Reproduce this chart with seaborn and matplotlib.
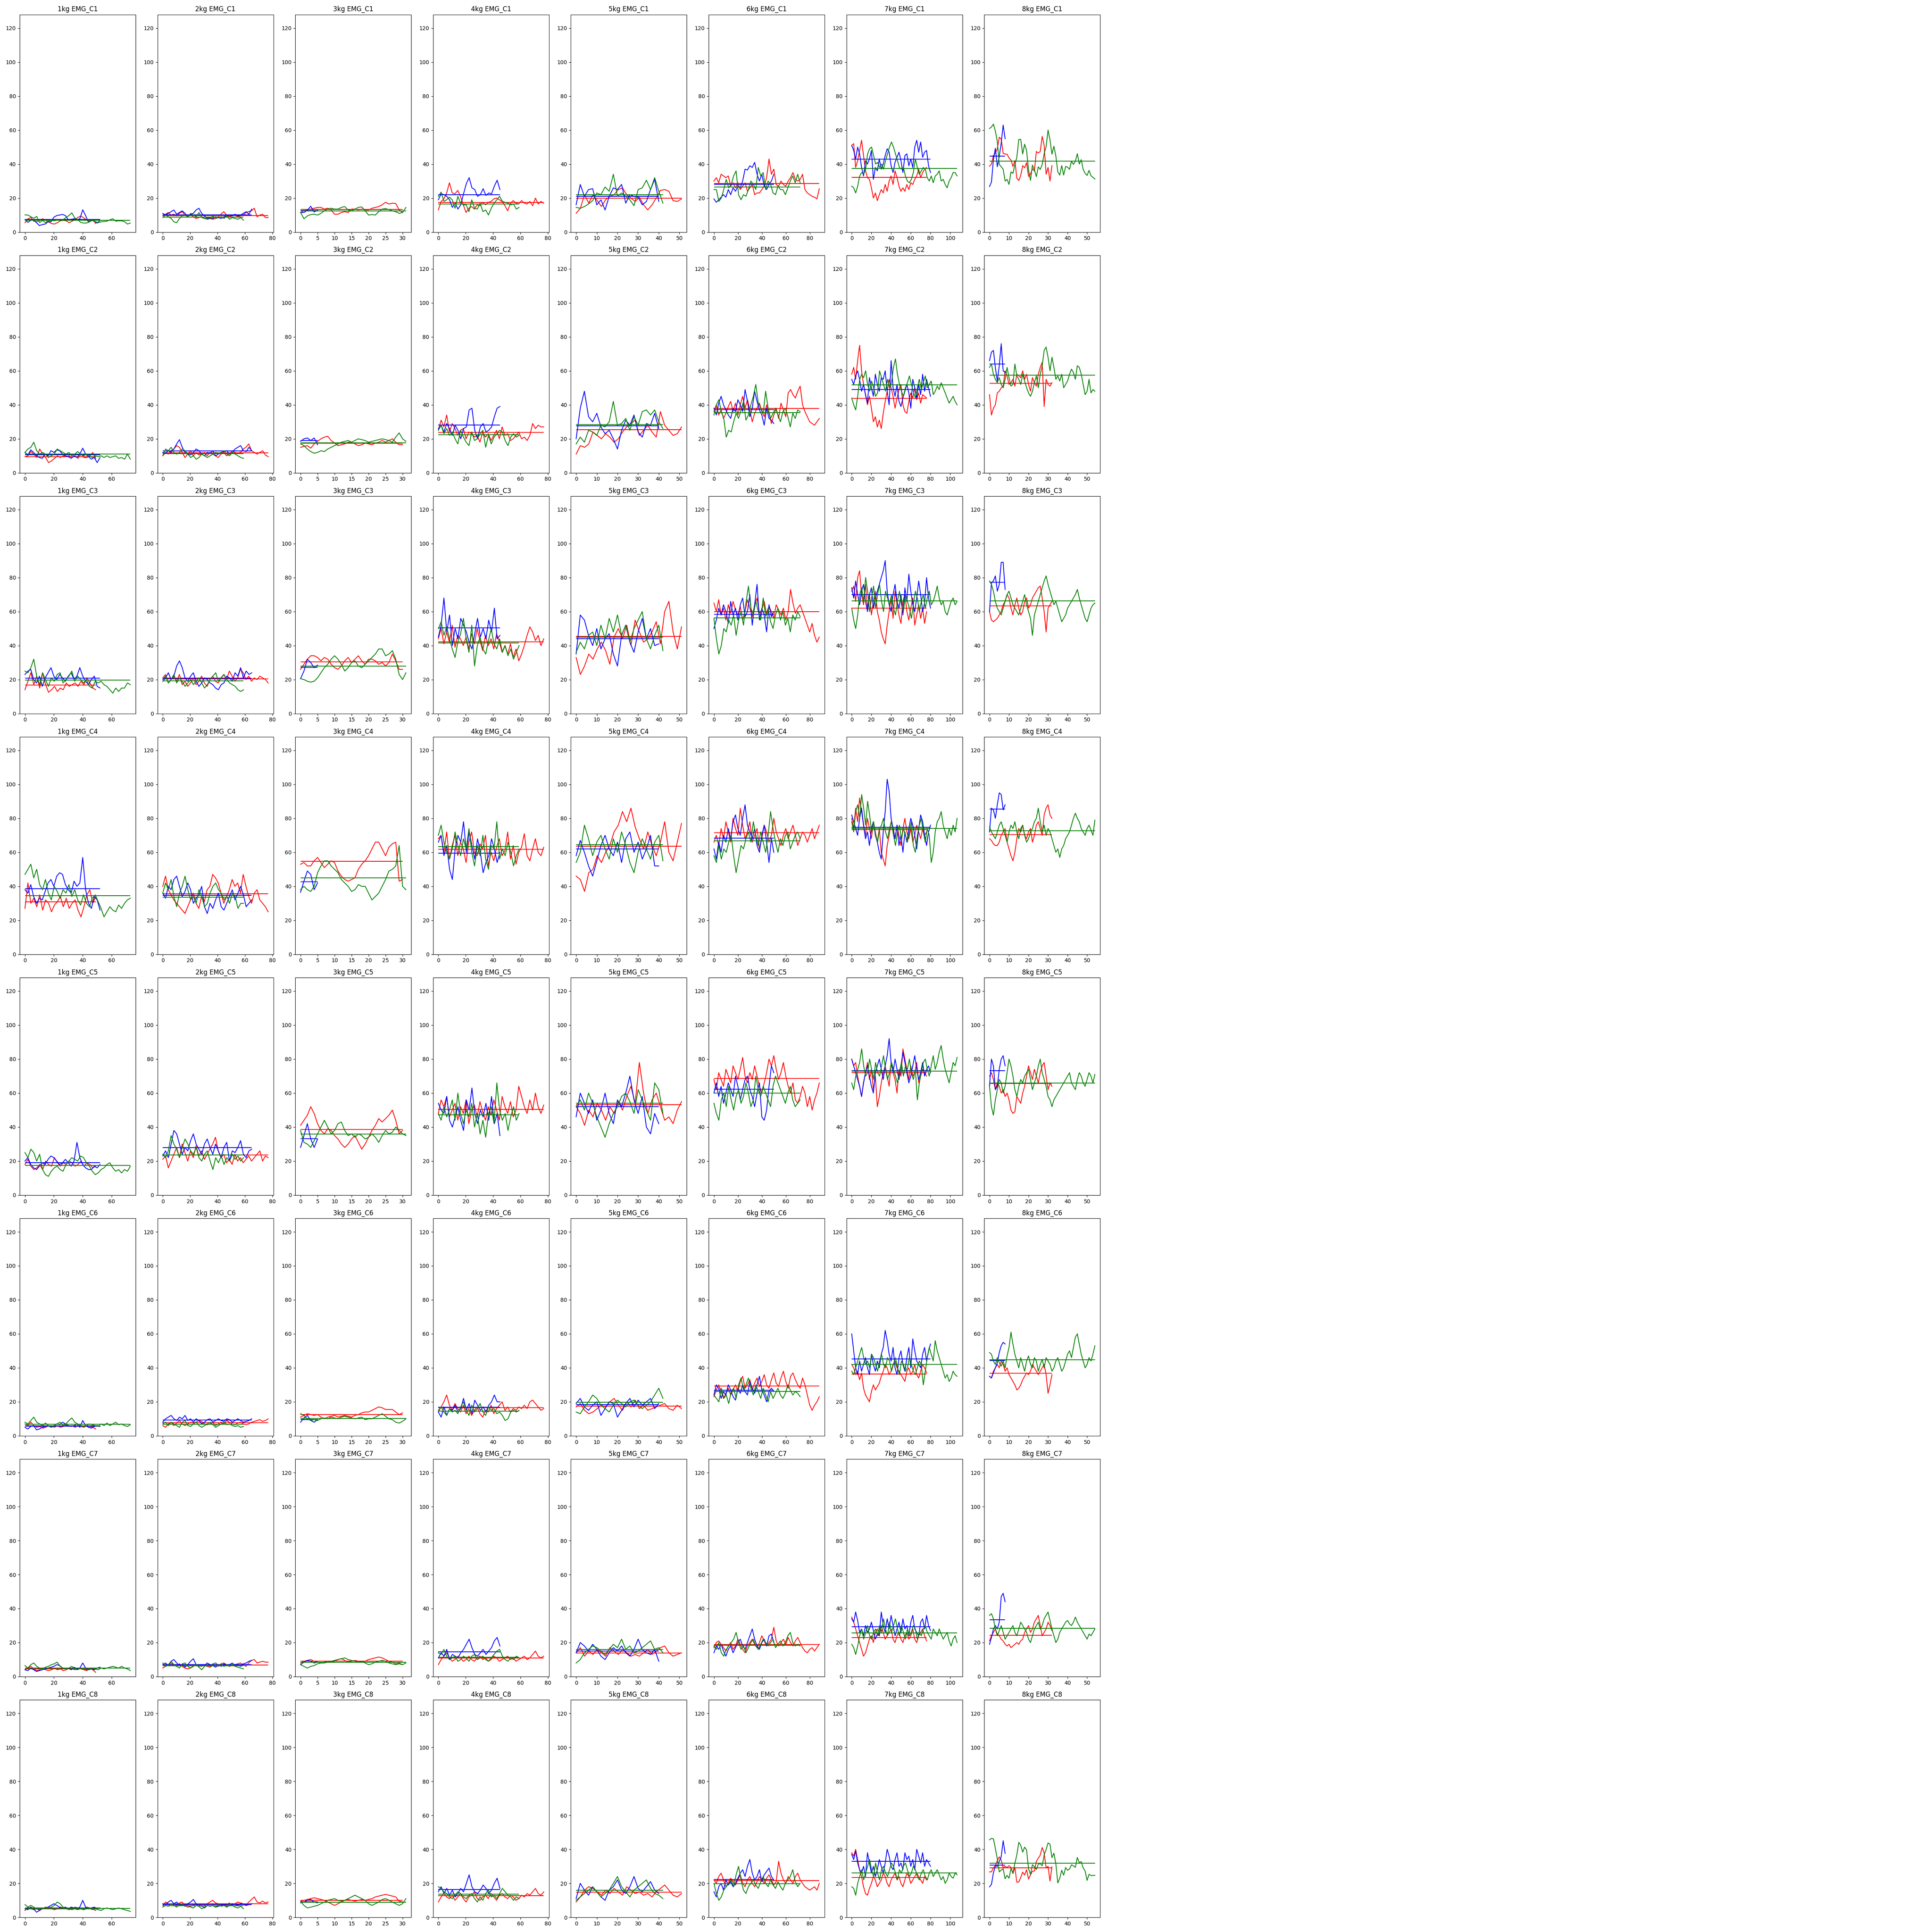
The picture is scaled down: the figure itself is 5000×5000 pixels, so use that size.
import numpy as np
import matplotlib
matplotlib.use("Agg")
import matplotlib.pyplot as plt
import seaborn as sns

weights = ["1kg", "2kg", "3kg", "4kg", "5kg", "6kg", "7kg", "8kg"]
channels = ["EMG_C1", "EMG_C2", "EMG_C3", "EMG_C4", "EMG_C5", "EMG_C6", "EMG_C7", "EMG_C8"]

# number of samples of each recording (x runs 0 .. n-1)
red_len = [50, 78, 31, 78, 52, 89, 77, 33]
blue_len = [53, 66, 6, 46, 41, 51, 81, 9]
green_len = [74, 60, 32, 60, 43, 73, 108, 55]

# ---------------- EMG_C1 ----------------
c1_red = [
    [5.5, 7.8, 8.5, 6.4, 6, 6.9, 7.8, 6.9, 6, 5, 4.7, 5.5, 6.6, 6.9, 6.6, 5.5, 6.4, 7.3, 8.7, 9.4, 8.3, 6.9, 6.4, 7.3, 5],
    [9.5, 10.5, 11.5, 10, 10.5, 9.5, 11, 12, 10, 9, 10.5, 9, 8, 8.5, 9, 8, 8.5, 8, 7.5, 8, 9, 10.5, 12, 10, 9, 9.5, 10, 9, 9.5, 10, 11.5, 12, 12.5, 14, 9, 10, 10.5, 8.5, 8.5],
    [11.5, 12.5, 13, 13.5, 14, 14.5, 14.5, 13.5, 14, 13, 10.5, 10.5, 11.5, 12, 11.5, 13.5, 13.5, 13, 13.5, 13, 13, 14, 14.5, 15, 16, 17.5, 16.5, 17, 16.8, 13, 11.5],
    [13, 18, 19.5, 23, 29, 23, 22.5, 24.5, 21, 16, 11.5, 14, 15, 13.5, 16, 15.5, 17.5, 16, 17.5, 18, 19.5, 20, 19, 18, 15.5, 12.5, 17, 18.5, 17, 16.5, 18.5, 17, 16.5, 18, 15.5, 20, 16.5, 18, 17],
    [11, 14, 22, 17, 22, 18.5, 15, 19, 21, 22, 25, 26, 22, 20, 18, 20.5, 16, 13, 16, 20, 24.5, 25, 24, 18.5, 18, 19.5],
    [30, 32, 29, 34, 33, 32, 33, 27, 29, 26, 29, 25, 27, 29, 24, 26, 28, 22, 23, 23, 25, 27, 32, 43, 34, 37, 28, 27, 30, 28, 27, 30, 32, 35, 31, 30, 31, 34, 25, 23, 22, 21, 20.5, 19.5, 25.5],
    [51, 52, 38, 42, 48, 54, 45, 36, 32, 31, 26, 20, 23, 18.5, 22, 25, 23, 28, 24, 30, 33, 28, 36, 32, 27, 24, 26, 24, 28, 25, 29, 28, 31, 33, 37, 32, 35, 37, 38],
    [38.7, 40, 45, 46.5, 49, 55.8, 54.7, 46.3, 45.9, 45.8, 43.6, 42.4, 38.6, 42, 31.7, 30.3, 33.3, 39.1, 37.8, 40.8, 32.7, 34.1, 37.2, 35.9, 47.4, 46.5, 47.4, 56.3, 51, 34, 38, 30, 39.1],
]
c1_blue = [
    [7.3, 5.7, 6.9, 7.2, 5.5, 3.8, 4.4, 4.7, 6, 6, 8.7, 9.7, 10, 10.4, 9.7, 7.3, 7.5, 7.8, 7.3, 7.8, 13.1, 9.7, 5.7, 6.9, 6.4, 5.3, 6.9],
    [11, 10, 11, 12, 13, 10.5, 11.5, 12.5, 11, 9, 10.5, 11, 13, 14, 11, 9.5, 8, 8.5, 8, 9, 8.5, 8, 9, 9.5, 10, 9.5, 10.5, 9.5, 10, 11, 12, 10.5, 13.5],
    [11.5, 11.5, 12.8, 15.2, 11.8, 12.9],
    [19, 22.5, 22, 21, 19, 14.5, 17, 13.5, 16, 22.5, 28.5, 32, 26, 25, 21, 22, 25.5, 21.5, 23, 22.5, 27, 30.5, 25],
    [16, 28, 21, 25, 25.5, 16, 19, 13, 21, 26, 25, 28, 17, 22, 21, 20.5, 16, 18, 25, 31, 18],
    [19.5, 17.5, 19, 20.5, 22, 20.5, 25, 22, 26, 24, 27, 26, 30, 37, 36.5, 39, 38, 41, 34, 30, 34, 27, 25, 28, 30, 34],
    [51, 48, 43, 50, 46, 38, 33, 42, 40, 43, 48, 31, 38, 36, 43, 37, 40, 45, 49, 47, 39, 35, 41, 44, 47, 42, 35, 45, 46, 39, 43, 38, 50, 54, 47, 53, 44, 47, 48, 39, 35],
    [26.8, 29.4, 42.6, 49.3, 38.4, 44.5, 52.4, 63, 54.9],
]
c1_green = [
    [10.1, 10, 9, 8.1, 9.2, 5.5, 6.9, 5.5, 6.4, 6.9, 6.6, 7.2, 6.9, 7.3, 8.5, 9.7, 11.3, 8.3, 7.3, 5.7, 5.3, 5.3, 6, 6.9, 6.2, 5.5, 6, 6.2, 6.4, 7.2, 7.8, 6.4, 6.6, 6.6, 6.1, 4.7, 5.3],
    [8.5, 10, 9, 8, 6, 5.5, 8, 9.5, 10, 9, 11, 10, 9, 11.5, 8.5, 8, 7.5, 8, 9.5, 8, 8.5, 9, 8, 9.5, 7.5, 8.5, 8, 7.5, 8.5, 7],
    [11.5, 7.8, 9.5, 10.3, 10.5, 10, 11, 12.5, 13.5, 14, 13.5, 13.5, 14.5, 15, 13, 12.5, 13.5, 14.5, 14.8, 12.5, 10, 10.3, 10, 12, 13.5, 13.8, 13.2, 12.5, 12, 11, 11.5, 14.5],
    [21, 23.5, 18, 19, 20.5, 19, 14, 21, 17, 16, 16, 12, 19, 14, 13.5, 17, 12, 13, 10, 14, 17, 19, 21, 18, 17.5, 17, 16, 16.5, 13.5, 14.5],
    [14.5, 14, 15, 16.5, 18.5, 23, 22, 26.5, 24, 34, 21, 23, 21, 19, 15.5, 25, 26, 30.5, 25, 32, 24, 17],
    [25, 25, 18, 20, 25, 31, 26, 28, 33, 36, 22, 19, 22, 21, 25, 30, 28, 25, 38, 33, 35, 25, 30, 28, 23, 22, 27, 25, 25, 22, 26, 30, 33, 29, 34, 29],
    [27, 26, 23, 27, 33, 35, 34, 37, 46, 49, 50, 45, 40, 41, 38, 40, 37, 42, 46, 50, 53, 50, 46, 42, 38, 37, 38, 33, 30, 29, 31, 35, 43, 38, 34, 36, 38, 37, 32, 30, 33, 29, 33, 34, 36, 30, 31, 28, 26, 30, 32, 35, 35, 33],
    [60.9, 61.8, 63.5, 59.5, 53.3, 39.8, 38.4, 37, 30, 31, 28, 35.4, 34.5, 39.8, 43.9, 54.5, 54.5, 45.9, 51.7, 48, 36.6, 30.4, 39.4, 36.6, 32.6, 38.4, 36.8, 39.8, 46.1, 50.2, 60, 54.2, 45.8, 50.5, 44.7, 35.4, 33.5, 39.1, 33.5, 38.6, 38.2, 36.9, 41.7, 39.8, 41.7, 46.1, 40, 42.6, 36.9, 34.5, 33.3, 36.3, 33.1, 32.2, 31.2],
]
c1_mean_red = [6.9, 9.7, 13.4, 17.5, 20.0, 28.6, 32.1, 41.8]
c1_mean_blue = [7.3, 10.1, 12.7, 22.0, 21.1, 28.0, 42.8, 44.6]
c1_mean_green = [6.9, 8.7, 12.3, 16.6, 22.0, 26.6, 37.3, 41.8]

# ---------------- EMG_C2 ----------------
c2_red = [
    [9.5, 10, 12.5, 11, 9, 14, 11, 9, 6, 7, 8.5, 10, 9, 10, 9.5, 10, 9, 10, 8.5, 11, 9, 9, 10, 12, 8.5],
    [10, 12, 11, 13, 14, 16, 15, 12, 9, 11, 13, 10, 12, 10.5, 11, 12, 10, 12, 11, 10, 9, 11, 12, 10, 11, 13, 12, 11.5, 12, 14, 15, 17, 13, 12, 11, 12, 13, 10.5, 9.5],
    [15, 15.5, 16, 14.5, 17, 18.5, 20, 21, 21.5, 19, 17.5, 16, 16.5, 17, 18, 18, 17, 16, 16.5, 17.5, 17, 16.5, 17.5, 18, 19, 18, 19, 20, 18, 16.5, 16.5],
    [25, 31, 27, 34, 24, 29, 26, 22, 25, 26, 20, 24, 23, 21, 22, 18, 24, 21, 23, 19, 22, 25, 20, 27, 22, 23, 19, 20, 22, 24, 20, 21, 19, 22, 29, 26, 28, 27, 27],
    [11, 16, 15, 17, 24, 22, 20, 23, 21, 18, 20, 24, 27, 29, 31, 22, 25, 28, 24, 21, 36, 28, 25, 22, 23, 27],
    [36, 40, 34, 37, 32, 35, 39, 42, 36, 41, 34, 40, 45, 38, 43, 37, 30, 35, 38, 41, 36, 33, 40, 35, 29, 34, 38, 32, 41, 37, 33, 47, 49, 46, 44, 48, 51, 40, 36, 33, 30, 29, 28, 30, 32],
    [58, 62, 55, 66, 75, 60, 52, 46, 40, 45, 38, 30, 33, 27, 31, 26, 35, 42, 48, 55, 50, 45, 38, 44, 49, 52, 40, 36, 35, 42, 47, 44, 50, 43, 47, 41, 46, 45, 44],
    [46, 34, 38, 40, 47, 48, 50, 51, 60, 57, 52, 53, 55, 51, 58, 57, 56, 60, 55, 58, 52, 48, 56, 53, 51, 58, 62, 65, 39, 55, 52, 51, 53],
]
c2_blue = [
    [12, 10.5, 13.5, 12, 10, 9, 8.5, 11, 10, 13, 12, 13.5, 13, 11, 10, 9.5, 8.5, 10, 9, 11, 14.5, 11, 9.5, 8, 9, 6, 9],
    [12, 11.5, 13, 12, 14, 17, 19.5, 15, 12, 11, 10.5, 12, 14, 13, 11, 10, 12, 11.5, 13, 10, 11, 12, 12.5, 13, 11, 12, 14, 15, 16, 13, 12.5, 15, 13],
    [18.5, 20, 20.5, 19, 20.5, 16.5],
    [26, 28, 24, 29, 26, 22, 28, 25, 20, 26, 27, 37, 38, 25, 20, 27, 29, 24, 25, 27, 33, 38, 39],
    [20, 38, 48, 33, 30, 35, 27, 23, 25, 20, 14, 25, 31, 28, 34, 24, 21, 29, 28, 35, 26],
    [38, 34, 41, 45, 40, 37, 34, 32, 38, 36, 43, 40, 36, 49, 42, 33, 38, 48, 42, 37, 34, 28, 38, 32, 31, 29],
    [55, 52, 57, 60, 55, 48, 52, 46, 41, 56, 50, 45, 58, 52, 48, 56, 55, 60, 48, 40, 66, 50, 45, 52, 42, 39, 44, 48, 52, 47, 38, 55, 50, 44, 52, 46, 58, 48, 55, 50, 45],
    [66, 71, 72, 62, 54, 63, 76, 60, 59],
]
c2_green = [
    [12, 14, 15, 18, 13, 11, 12, 11, 9, 10, 11, 14, 13, 12, 11, 12, 10, 11, 12.5, 11, 10, 11, 10, 9, 10, 9.5, 10, 9, 10, 9, 9.5, 10, 8.5, 9, 8, 11, 8],
    [10, 14, 13, 15, 12, 11, 12, 14, 13, 11, 9, 10, 8, 9, 11, 10, 9, 10, 11, 12, 11.5, 12, 13, 11, 10, 12, 11, 10, 9, 8.5],
    [17, 16, 14, 12.5, 11.5, 12, 13, 12.5, 14, 15, 16, 17, 18, 18.5, 19, 18, 19, 20, 19.5, 19, 18, 18.5, 19, 19.5, 20, 19.5, 19, 18, 21, 23.5, 20, 18.5],
    [25, 28, 23, 26, 22, 24, 20, 17, 25, 21, 18, 16, 24, 19, 20, 23, 25, 15, 22, 17, 21, 23, 25, 24, 19, 16, 21, 23, 21, 22],
    [17, 21, 18, 25, 24, 22, 28, 27, 30, 42, 28, 29, 32, 25, 33, 28, 36, 37, 34, 37, 30, 26],
    [34, 40, 43, 36, 32, 21, 25, 24, 30, 35, 32, 37, 42, 31, 34, 40, 45, 52, 41, 38, 35, 48, 38, 32, 35, 38, 34, 30, 36, 38, 33, 27, 35, 32, 37, 36],
    [44, 40, 37, 45, 55, 58, 56, 60, 52, 48, 54, 50, 45, 47, 60, 56, 52, 48, 55, 50, 53, 62, 67, 58, 52, 48, 45, 50, 53, 57, 52, 48, 44, 50, 55, 49, 53, 57, 50, 52, 54, 46, 48, 51, 49, 53, 50, 47, 44, 41, 43, 45, 42, 40],
    [62, 64, 58, 55, 53, 56, 52, 50, 55, 62, 56, 51, 52, 64, 57, 55, 52, 58, 54, 50, 47, 45, 48, 53, 57, 50, 58, 63, 72, 74, 68, 60, 68, 62, 55, 57, 54, 58, 50, 52, 54, 58, 61, 59, 55, 63, 62, 58, 52, 46, 48, 55, 47, 49, 48],
]
c2_mean_red = [9.5, 11.7, 17.5, 23.7, 25.4, 37.9, 43.7, 52.7]
c2_mean_blue = [10.5, 12.8, 18.9, 28.2, 27.6, 37.2, 49.0, 64.0]
c2_mean_green = [11.0, 11.3, 17.7, 22.4, 28.4, 35.4, 51.8, 57.4]

# ---------------- EMG_C3 ----------------
c3_red = [
    [14, 19, 24, 17, 22, 15, 24, 17, 12.5, 14, 16, 13, 15, 14, 18, 16, 17, 18, 16, 19, 17, 21, 18, 15, 14],
    [21, 23, 18, 20, 22, 19, 23, 17, 19, 16, 18, 21, 17, 19, 22, 18, 16, 20, 22, 19, 18, 21, 23, 20, 25, 22, 19, 21, 26, 24, 20, 22, 19, 21, 20, 22, 21, 20, 18],
    [26, 29, 32, 34, 34, 33, 31, 33, 32, 29, 27, 26, 28, 31, 33, 30, 32, 34, 31, 29, 32, 32, 31, 29, 30, 28, 30, 35, 31, 26, 26],
    [44, 50, 41, 48, 42, 52, 39, 46, 44, 40, 45, 38, 47, 41, 50, 43, 37, 46, 40, 44, 38, 47, 42, 36, 40, 35, 41, 33, 38, 31, 35, 40, 46, 51, 48, 43, 46, 40, 44],
    [33, 23, 28, 35, 32, 38, 42, 37, 29, 45, 50, 44, 52, 40, 55, 48, 42, 44, 48, 54, 41, 60, 66, 48, 38, 51],
    [65, 60, 67, 58, 62, 55, 64, 59, 66, 61, 58, 63, 55, 60, 67, 62, 57, 64, 68, 59, 61, 66, 58, 63, 60, 56, 64, 61, 58, 62, 55, 60, 73, 65, 59, 62, 64, 60, 56, 52, 48, 53, 46, 42, 45],
    [72, 75, 66, 80, 84, 70, 64, 76, 62, 70, 58, 66, 72, 60, 55, 48, 44, 41, 52, 60, 68, 56, 72, 64, 58, 53, 66, 70, 60, 55, 62, 68, 52, 58, 64, 56, 62, 53, 60],
    [60, 55, 54, 55, 56, 58, 60, 64, 66, 70, 68, 62, 58, 64, 68, 62, 58, 60, 66, 68, 62, 64, 68, 70, 72, 74, 75, 68, 60, 48, 62, 64, 66],
]
c3_blue = [
    [23, 25, 26, 20, 18, 22, 16, 21, 24, 27, 22, 20, 23, 21, 19, 22, 24, 20, 22, 27, 22, 19, 17, 20, 22, 16, 15],
    [19, 21, 24, 20, 22, 28, 31, 27, 21, 19, 22, 24, 19, 16, 18, 21, 20, 18, 17, 15, 14, 17, 18, 22, 21, 19, 24, 22, 27, 21, 25, 23, 24],
    [20.5, 25, 32, 30, 27, 28.5],
    [45, 52, 68, 48, 58, 40, 50, 44, 56, 52, 48, 42, 38, 47, 56, 45, 50, 44, 55, 48, 62, 44, 46],
    [35, 58, 55, 46, 40, 50, 38, 44, 47, 35, 28, 46, 52, 42, 36, 48, 56, 44, 50, 40, 41],
    [50, 55, 62, 58, 64, 60, 53, 66, 58, 62, 55, 64, 68, 57, 60, 70, 52, 64, 76, 55, 62, 58, 48, 64, 57, 60],
    [74, 68, 78, 70, 64, 72, 76, 66, 60, 70, 74, 62, 68, 72, 76, 80, 84, 90, 72, 64, 60, 70, 76, 66, 62, 70, 58, 74, 66, 82, 72, 64, 60, 68, 78, 70, 60, 65, 80, 68, 62],
    [60, 77, 78, 81, 72, 76, 89, 89, 73],
]
c3_green = [
    [25, 24, 27, 32, 22, 17, 24, 20, 16, 21, 19, 23, 24, 18, 20, 22, 25, 19, 22, 20, 18, 20, 16, 15, 19, 18, 19, 17, 16, 14, 12, 15, 13, 15, 15, 18, 17],
    [20, 22, 18, 20, 23, 18, 21, 19, 16, 18, 20, 17, 19, 21, 18, 15, 17, 20, 22, 24, 19, 21, 23, 20, 18, 17, 16, 14, 13, 14],
    [20.5, 20, 19, 18.5, 19, 21, 24, 27, 29, 32, 34, 32, 29, 25, 27, 30, 31, 28, 27, 29, 31, 33, 35, 38, 38, 34, 35, 37, 32, 23, 20, 24],
    [50, 54, 46, 51, 44, 38, 33, 42, 47, 56, 44, 36, 52, 28, 40, 45, 38, 35, 43, 50, 41, 38, 44, 36, 40, 34, 38, 32, 36, 40],
    [36, 42, 38, 46, 48, 40, 52, 44, 56, 48, 58, 46, 52, 42, 50, 55, 60, 44, 38, 46, 52, 37],
    [56, 44, 35, 40, 50, 48, 55, 52, 58, 46, 55, 60, 52, 65, 75, 62, 58, 66, 60, 55, 68, 57, 62, 54, 50, 58, 62, 55, 60, 52, 56, 48, 58, 55, 60, 57],
    [62, 55, 50, 58, 70, 74, 66, 80, 72, 60, 68, 75, 62, 70, 76, 66, 60, 72, 68, 64, 70, 62, 58, 66, 72, 64, 60, 70, 66, 62, 56, 64, 72, 68, 60, 66, 70, 62, 68, 72, 64, 66, 70, 75, 68, 64, 66, 60, 58, 62, 66, 68, 64, 66],
    [78, 76, 72, 66, 62, 60, 58, 62, 66, 70, 72, 68, 64, 62, 60, 58, 62, 66, 70, 64, 60, 56, 46, 58, 62, 66, 70, 74, 78, 81, 76, 72, 68, 64, 66, 62, 58, 54, 56, 58, 62, 64, 66, 68, 70, 73, 68, 64, 60, 56, 54, 58, 62, 64, 65],
]
c3_mean_red = [16.7, 20.3, 30.4, 42.1, 45.5, 60.0, 61.9, 63.4]
c3_mean_blue = [20.8, 20.8, 27.2, 50.3, 44.0, 58.4, 69.9, 77.2]
c3_mean_green = [19.7, 19.2, 27.9, 41.5, 45.0, 56.4, 66.2, 66.2]

# ---------------- EMG_C4 ----------------
c4_red = [
    [27, 42, 30, 33, 28, 35, 26, 32, 30, 25, 29, 31, 34, 28, 33, 27, 30, 32, 26, 22, 28, 35, 38, 30, 34],
    [40, 46, 38, 35, 32, 30, 28, 26, 24, 28, 32, 36, 30, 27, 34, 31, 38, 40, 47, 45, 42, 36, 30, 34, 38, 44, 40, 42, 36, 47, 40, 34, 30, 36, 38, 32, 30, 28, 25],
    [53, 54, 52, 52, 55, 57, 54, 51, 53, 55, 54, 49, 46, 44, 43, 44, 45, 50, 53, 55, 58, 62, 66, 66, 62, 58, 63, 65, 66, 43, 44],
    [68, 70, 60, 72, 56, 64, 70, 58, 66, 62, 54, 66, 72, 60, 58, 65, 62, 70, 52, 60, 55, 63, 68, 58, 61, 72, 56, 64, 53, 60, 63, 71, 58, 55, 62, 68, 60, 58, 63],
    [46, 44, 37, 48, 50, 58, 54, 60, 64, 72, 76, 84, 78, 86, 75, 68, 62, 72, 64, 58, 66, 78, 60, 55, 66, 77],
    [66, 70, 64, 74, 68, 78, 72, 66, 80, 74, 70, 86, 76, 68, 72, 78, 66, 70, 74, 62, 68, 76, 72, 66, 70, 80, 72, 68, 64, 70, 74, 68, 72, 76, 70, 64, 68, 72, 70, 66, 70, 74, 68, 72, 76],
    [80, 74, 86, 78, 92, 84, 76, 70, 80, 74, 68, 78, 72, 66, 74, 60, 56, 52, 64, 70, 78, 74, 68, 76, 70, 64, 74, 80, 72, 68, 74, 66, 70, 76, 72, 68, 74, 70, 72],
    [68, 67, 65, 64, 64, 66, 70, 72, 74, 66, 62, 58, 55, 60, 68, 74, 72, 76, 70, 68, 72, 74, 66, 70, 76, 78, 74, 70, 82, 86, 88, 82, 80],
]
c4_blue = [
    [38, 36, 41, 34, 30, 33, 32, 37, 42, 44, 40, 46, 48, 47, 41, 38, 36, 43, 40, 42, 57, 38, 30, 27, 34, 32, 26],
    [36, 33, 40, 38, 44, 46, 40, 34, 37, 42, 38, 30, 33, 35, 40, 28, 24, 30, 27, 32, 36, 28, 26, 30, 34, 38, 32, 36, 40, 35, 28, 30, 32],
    [36.5, 43, 49, 47, 38, 42],
    [66, 70, 58, 64, 50, 44, 62, 70, 66, 78, 60, 72, 64, 56, 68, 60, 48, 54, 58, 68, 62, 54, 60],
    [58, 67, 60, 52, 46, 55, 64, 70, 62, 58, 66, 54, 68, 72, 60, 66, 56, 62, 70, 52, 52],
    [62, 56, 66, 60, 70, 66, 74, 68, 78, 82, 74, 70, 80, 88, 76, 72, 68, 74, 64, 60, 70, 76, 66, 54, 68, 60],
    [82, 78, 74, 70, 80, 86, 76, 68, 72, 64, 74, 78, 70, 66, 60, 56, 72, 84, 103, 96, 80, 74, 68, 76, 64, 70, 60, 72, 66, 74, 80, 76, 70, 62, 74, 82, 78, 70, 64, 72, 76],
    [72, 86, 85, 80, 88, 95, 94, 85, 88],
]
c4_green = [
    [47, 50, 53, 45, 50, 41, 38, 44, 36, 32, 40, 37, 33, 38, 36, 41, 34, 38, 32, 29, 35, 30, 28, 33, 35, 31, 27, 22, 25, 28, 26, 25, 29, 27, 30, 32, 33],
    [36, 42, 38, 44, 34, 28, 36, 40, 46, 38, 32, 34, 30, 38, 34, 28, 30, 36, 40, 42, 38, 36, 32, 34, 30, 36, 34, 27, 30, 30],
    [38, 40, 38, 37, 40, 48, 52, 55, 55, 52, 50, 48, 44, 42, 40, 37, 38, 41, 40, 40, 36, 32, 34, 36, 40, 44, 49, 50, 52, 64, 40, 38],
    [70, 76, 66, 60, 56, 62, 72, 64, 58, 68, 62, 74, 60, 52, 64, 58, 70, 56, 50, 64, 62, 78, 56, 62, 58, 66, 60, 52, 58, 62],
    [54, 60, 76, 68, 58, 66, 70, 62, 56, 68, 60, 72, 64, 54, 48, 60, 68, 62, 56, 66, 70, 55],
    [58, 54, 64, 56, 62, 60, 66, 70, 58, 48, 56, 64, 62, 68, 72, 66, 78, 70, 64, 72, 66, 60, 70, 84, 74, 66, 60, 68, 64, 70, 72, 62, 66, 70, 72, 68],
    [78, 72, 84, 88, 80, 94, 86, 76, 90, 82, 72, 78, 70, 66, 74, 76, 80, 72, 68, 74, 78, 70, 64, 72, 76, 68, 74, 70, 66, 72, 78, 64, 60, 70, 76, 80, 72, 66, 74, 70, 54, 60, 72, 78, 80, 84, 76, 72, 68, 74, 70, 76, 72, 80],
    [75, 72, 70, 68, 72, 76, 78, 74, 70, 66, 72, 76, 74, 78, 72, 68, 74, 76, 70, 66, 68, 72, 74, 78, 80, 86, 78, 72, 76, 70, 74, 72, 68, 64, 60, 62, 57, 62, 64, 68, 70, 72, 76, 80, 83, 80, 78, 74, 72, 70, 74, 76, 73, 70, 79],
]
c4_mean_red = [30.8, 35.6, 54.8, 61.7, 63.7, 71.6, 73.4, 70.5]
c4_mean_blue = [38.6, 34.7, 42.7, 59.5, 61.9, 68.3, 74.8, 85.5]
c4_mean_green = [34.5, 33.5, 45.0, 63.4, 64.4, 66.8, 74.1, 72.7]

# ---------------- EMG_C5 ----------------
c5_red = [
    [18, 21, 17, 15, 16, 18, 15, 20, 18, 17, 22, 19, 17, 19, 18, 20, 19, 17, 18, 20, 17, 19, 18, 16, 17],
    [21, 23, 16, 20, 24, 28, 22, 30, 25, 20, 26, 22, 29, 23, 26, 21, 24, 27, 30, 34, 26, 22, 24, 19, 21, 18, 24, 20, 22, 19, 21, 23, 20, 22, 24, 26, 20, 23, 22],
    [41, 44, 47, 52, 48, 42, 38, 36, 39, 38, 35, 33, 30, 28, 30, 33, 35, 31, 27, 30, 34, 38, 41, 45, 43, 45, 47, 50, 44, 36, 38],
    [48, 56, 52, 58, 46, 50, 54, 44, 52, 48, 56, 42, 50, 53, 46, 55, 49, 44, 52, 47, 56, 50, 44, 58, 52, 48, 55, 46, 50, 64, 58, 52, 48, 56, 50, 60, 52, 48, 53],
    [52, 48, 41, 50, 46, 54, 50, 44, 52, 48, 55, 50, 58, 64, 54, 78, 60, 48, 56, 60, 52, 44, 46, 42, 50, 55],
    [68, 62, 72, 68, 64, 74, 70, 66, 76, 72, 68, 74, 81, 70, 66, 72, 68, 76, 70, 64, 60, 66, 72, 80, 76, 82, 74, 68, 72, 78, 70, 64, 60, 66, 56, 54, 58, 64, 60, 52, 58, 50, 56, 60, 66],
    [80, 76, 78, 70, 64, 58, 66, 72, 78, 68, 74, 62, 70, 52, 58, 66, 72, 76, 70, 64, 78, 72, 68, 60, 74, 70, 86, 80, 74, 68, 76, 70, 72, 78, 66, 70, 74, 72, 70],
    [70, 72, 68, 62, 66, 64, 60, 62, 58, 60, 56, 50, 48, 49, 58, 56, 54, 60, 64, 70, 76, 72, 68, 74, 70, 66, 72, 76, 78, 70, 62, 66, 64],
]
c5_blue = [
    [20, 22, 18, 16, 15, 17, 19, 18, 21, 23, 22, 20, 18, 19, 21, 19, 17, 20, 31, 22, 18, 16, 15, 15, 17, 16, 18],
    [23, 26, 22, 30, 38, 36, 30, 24, 28, 26, 32, 36, 30, 27, 24, 30, 33, 28, 24, 30, 26, 22, 28, 31, 20, 26, 25, 28, 32, 24, 22, 26, 27],
    [28, 35, 42, 33, 28, 33],
    [54, 50, 48, 58, 44, 40, 46, 52, 44, 38, 56, 50, 63, 48, 42, 50, 46, 54, 44, 58, 42, 48, 35],
    [46, 60, 54, 48, 56, 44, 50, 60, 48, 42, 56, 52, 60, 70, 56, 48, 58, 40, 36, 48, 42],
    [60, 66, 58, 64, 54, 60, 66, 62, 58, 70, 64, 56, 62, 68, 70, 62, 58, 52, 60, 66, 46, 44, 50, 64, 76, 72],
    [80, 76, 72, 68, 64, 58, 66, 72, 76, 70, 64, 60, 72, 76, 80, 74, 68, 76, 82, 92, 78, 72, 80, 74, 68, 76, 84, 78, 72, 66, 70, 76, 82, 74, 68, 72, 78, 70, 74, 76, 72],
    [64, 80, 76, 62, 64, 74, 80, 82, 76],
]
c5_green = [
    [25, 22, 27, 25, 20, 24, 15, 12, 11, 14, 16, 17, 15, 14, 18, 20, 22, 21, 20, 23, 22, 19, 17, 14, 12, 13, 15, 16, 18, 19, 16, 14, 15, 13, 15, 14, 17],
    [24, 22, 26, 35, 30, 27, 22, 28, 33, 30, 26, 24, 28, 22, 20, 24, 26, 20, 15, 22, 19, 23, 18, 22, 20, 24, 21, 23, 20, 22],
    [38, 31, 30, 28, 32, 36, 40, 44, 40, 36, 38, 42, 43, 38, 35, 36, 34, 36, 35, 33, 34, 36, 34, 31, 35, 38, 36, 37, 40, 38, 36, 35],
    [48, 44, 52, 46, 50, 56, 44, 60, 48, 42, 50, 46, 54, 40, 48, 36, 44, 34, 48, 52, 42, 66, 50, 44, 48, 38, 46, 52, 44, 48],
    [52, 56, 50, 60, 54, 46, 40, 34, 42, 48, 52, 58, 60, 55, 48, 62, 56, 50, 44, 66, 62, 48],
    [54, 48, 44, 56, 60, 52, 64, 56, 50, 58, 62, 54, 58, 66, 60, 52, 56, 70, 62, 58, 64, 60, 56, 52, 64, 70, 66, 62, 58, 54, 60, 64, 56, 52, 54, 56],
    [66, 62, 70, 74, 78, 86, 76, 70, 72, 80, 74, 68, 78, 72, 70, 76, 82, 74, 68, 72, 78, 74, 70, 66, 72, 78, 70, 76, 74, 80, 72, 68, 74, 56, 66, 72, 78, 80, 74, 70, 76, 82, 74, 78, 84, 88, 80, 74, 70, 66, 72, 78, 76, 81],
    [64, 52, 47, 56, 62, 68, 66, 60, 64, 72, 80, 76, 70, 62, 58, 64, 68, 66, 70, 72, 74, 68, 62, 66, 70, 76, 80, 72, 68, 64, 58, 56, 52, 56, 58, 60, 62, 64, 66, 68, 70, 72, 66, 64, 62, 68, 72, 70, 66, 64, 68, 72, 70, 66, 71],
]
c5_mean_red = [17.4, 23.5, 38.6, 50.4, 53.2, 68.6, 72.1, 65.6]
c5_mean_blue = [19.0, 27.9, 33.2, 47.3, 52.1, 62.2, 73.2, 73.1]
c5_mean_green = [17.4, 23.5, 35.9, 47.3, 54.1, 60.0, 73.0, 65.9]

# ---------------- EMG_C6 ----------------
c6_red = [
    [7, 6, 8, 6, 5, 5.5, 4.5, 5, 6, 5.5, 5, 6, 5, 5.5, 6.5, 5.5, 6, 5, 6, 5.5, 5, 6, 5.5, 5, 4],
    [6, 5, 7, 8, 6, 7.5, 9, 7, 6, 7, 8, 7.5, 8, 9, 8.5, 7, 6.5, 7, 8, 6, 7, 8, 7, 9, 8, 7, 6.5, 7.5, 8, 7, 6.5, 7, 8, 8.5, 9, 9.5, 8.5, 9, 10],
    [11, 12, 13, 12.5, 12, 12.5, 11, 10, 11, 11.5, 12, 11, 11.5, 12, 11.5, 11, 12, 12.5, 13.5, 14, 14, 15, 16, 17, 16.5, 15.5, 15.5, 15.5, 14, 12.5, 13.5],
    [14, 17, 20, 24, 18, 15, 19, 16, 14, 18, 13, 16, 12, 15, 17, 13, 11, 15, 14, 18, 13, 16, 18, 20, 15, 17, 14, 16, 15, 17, 16, 18, 16, 20, 21, 19, 17, 15, 16],
    [17, 19, 15, 13, 14, 16, 18, 17, 20, 22, 18, 15, 20, 17, 21, 16, 18, 15, 16, 17, 18, 19, 16, 15, 18, 16],
    [23, 27, 30, 26, 22, 25, 28, 24, 27, 30, 26, 32, 35, 28, 30, 33, 27, 31, 34, 29, 32, 36, 30, 28, 33, 37, 31, 29, 34, 38, 32, 28, 35, 37, 33, 30, 28, 34, 30, 24, 18, 15, 18, 20, 23],
    [42, 40, 36, 38, 33, 37, 28, 24, 22, 20, 26, 30, 27, 29, 31, 35, 38, 42, 40, 36, 38, 42, 44, 40, 38, 36, 34, 32, 38, 40, 36, 38, 42, 36, 34, 38, 42, 40, 37],
    [35, 34, 38, 40, 42, 40, 44, 42, 38, 40, 36, 34, 32, 30, 27, 28, 30, 33, 35, 37, 36, 38, 42, 40, 38, 36, 38, 40, 42, 36, 25, 30, 36],
]
c6_blue = [
    [5, 4, 5.5, 6, 3.5, 4, 5, 5.5, 6, 5, 6, 7, 6.5, 8, 7, 6, 5.5, 6, 7, 5, 9, 6, 5, 4.5, 5.5, 6, 5.5],
    [8, 10, 11, 12, 10, 9, 11, 10, 12, 9, 10, 8, 10, 9, 7, 8, 9.5, 10, 8, 9, 10, 9, 8.5, 10, 9.5, 8, 9, 10, 9, 8, 8.5, 9, 10],
    [8, 10.5, 12, 9, 8, 9.5],
    [14, 11, 17, 12, 16, 15, 18, 14, 16, 22, 15, 19, 13, 21, 18, 15, 17, 14, 18, 20, 24, 20, 20],
    [19, 22, 17, 15, 18, 20, 12, 16, 20, 19, 11, 15, 19, 22, 17, 21, 18, 20, 22, 16, 19],
    [24, 30, 28, 22, 26, 24, 30, 27, 23, 21, 28, 25, 30, 26, 24, 32, 28, 25, 30, 35, 27, 24, 20, 26, 28, 26],
    [60, 50, 40, 36, 44, 38, 42, 46, 40, 36, 48, 42, 38, 44, 40, 48, 52, 62, 56, 48, 44, 52, 40, 36, 46, 50, 42, 38, 46, 52, 40, 57, 50, 44, 42, 40, 48, 52, 44, 50, 54],
    [35, 34, 37, 40, 43, 49, 53, 55, 54],
]
c6_green = [
    [8, 7, 9, 11, 8, 7, 6, 7.5, 6, 5, 6, 7, 8, 6, 7, 9, 10.5, 8, 7, 6, 5.5, 6, 7, 6.5, 6, 5.5, 7, 6, 7.5, 6, 7, 8, 6.5, 7, 6, 5.5, 6.5],
    [7, 8, 6, 8, 7, 6, 5, 8, 9, 6, 5.5, 7, 8, 6, 5, 6, 7, 8, 6.5, 5, 6, 7, 8, 6.5, 7, 6, 5.5, 6, 5, 5.5],
    [13, 12, 10, 9, 9.5, 9, 10, 10.5, 10, 11, 10.5, 10, 11, 11.5, 11, 10.5, 10, 10.5, 11, 9.5, 10, 10, 11, 12, 13, 11.5, 10, 9.5, 8, 7.5, 8.5, 10],
    [15, 17, 14, 12, 16, 14, 15, 13, 17, 20, 15, 12, 18, 14, 16, 19, 14, 12, 17, 15, 16, 13, 14, 12, 9, 10, 14, 15, 14, 15],
    [14, 13, 17, 20, 24, 22, 18, 16, 14, 18, 21, 19, 17, 20, 21, 18, 16, 18, 20, 24, 28, 22],
    [24, 22, 20, 28, 22, 24, 19, 26, 28, 22, 30, 34, 27, 30, 34, 28, 24, 30, 26, 22, 28, 24, 20, 26, 22, 25, 28, 24, 22, 25, 30, 27, 24, 26, 25, 23],
    [38, 36, 40, 44, 48, 52, 46, 42, 44, 40, 48, 46, 42, 38, 44, 48, 42, 40, 46, 44, 38, 42, 46, 40, 36, 44, 42, 38, 40, 46, 42, 38, 36, 40, 44, 42, 30, 38, 46, 52, 48, 44, 56, 50, 46, 42, 38, 34, 36, 32, 34, 38, 36, 35],
    [49, 48, 44, 42, 46, 43, 41, 44, 40, 47, 52, 61, 54, 48, 44, 40, 46, 42, 38, 44, 47, 42, 40, 46, 44, 38, 42, 45, 40, 46, 44, 42, 38, 40, 44, 46, 42, 38, 40, 44, 48, 50, 46, 52, 58, 60, 54, 48, 44, 40, 42, 46, 44, 48, 53],
]
c6_mean_red = [5.9, 7.6, 12.4, 16.5, 17.4, 29.2, 36.3, 36.8]
c6_mean_blue = [5.7, 9.3, 9.5, 16.7, 18.3, 26.7, 45.2, 44.4]
c6_mean_green = [6.7, 6.8, 10.3, 14.6, 19.7, 26.1, 42.0, 44.7]

# ---------------- EMG_C7 ----------------
c7_red = [
    [4, 5, 6, 4.5, 3.5, 4, 5, 4, 3.5, 4, 5, 4, 4.5, 3.5, 4, 5, 4.5, 4, 5, 4.5, 4, 3.5, 5, 4, 2.5],
    [5, 6, 7, 8, 7, 6, 7.5, 6, 5, 4.5, 5, 6, 7, 6.5, 6, 7, 6, 5.5, 6.5, 7, 6, 7.5, 8, 7, 6, 6.5, 7, 7.5, 8, 7, 6, 8, 9.5, 10, 8, 8.5, 9, 8.5, 8.5],
    [8, 9, 9.5, 10, 9, 8.5, 8, 8.5, 9, 8.5, 9, 10, 10.5, 9.5, 8.5, 9, 9.5, 9, 8.5, 9, 10, 10.5, 11, 11.5, 11, 10, 9, 8.5, 7.5, 8, 7],
    [7, 10, 12, 14, 11, 9, 10, 12, 11, 9, 10, 12, 10, 9, 11, 12, 10, 11, 9, 10, 12, 11, 9, 10, 11, 12, 10, 11, 9, 10, 11, 12, 10, 11, 13, 15, 12, 11, 12],
    [14, 17, 12, 15, 13, 16, 14, 12, 17, 15, 13, 16, 14, 12, 13, 12, 14, 16, 13, 15, 17, 18, 14, 12, 13, 14],
    [17, 20, 21, 19, 17, 15, 18, 20, 16, 18, 22, 19, 16, 14, 18, 20, 22, 19, 17, 20, 24, 21, 18, 20, 22, 29, 21, 18, 20, 22, 19, 23, 20, 18, 21, 23, 20, 17, 15, 14, 16, 17, 15, 17, 19],
    [35, 32, 28, 24, 20, 16, 12, 14, 18, 22, 24, 20, 26, 28, 24, 30, 26, 22, 24, 26, 28, 22, 20, 24, 26, 22, 20, 24, 26, 22, 24, 28, 22, 20, 24, 26, 28, 24, 21],
    [21, 24, 26, 28, 25, 24, 22, 21, 19, 18, 19, 17, 18, 19, 20, 19, 21, 22, 26, 28, 30, 26, 28, 32, 34, 36, 30, 24, 26, 28, 32, 30, 27],
]
c7_blue = [
    [4, 3.5, 5, 4, 3, 3.5, 4, 4.5, 5, 5.5, 6, 7, 6.5, 5, 4.5, 5, 4, 5.5, 4.5, 5, 8, 5, 4, 4.5, 4, 5, 5.5],
    [7, 8, 6.5, 9, 10, 8, 6.5, 7, 5.5, 7, 9, 10.5, 7, 6, 7, 6.5, 8, 7, 6.5, 5.5, 7, 6, 7.5, 6.5, 7, 8, 6.5, 7, 6, 7.5, 8, 9, 9.5],
    [7, 8.5, 9.5, 9, 8, 8.5],
    [11, 14, 12, 16, 10, 13, 12, 11, 14, 16, 19, 22, 17, 13, 12, 14, 16, 13, 15, 17, 21, 23, 18],
    [14, 20, 18, 15, 19, 16, 12, 10, 14, 17, 15, 18, 14, 12, 16, 22, 16, 14, 13, 16, 9],
    [14, 18, 16, 19, 15, 12, 16, 18, 14, 17, 20, 22, 18, 16, 20, 24, 28, 22, 18, 16, 20, 22, 18, 24, 25, 20],
    [34, 32, 38, 33, 26, 28, 24, 30, 26, 28, 32, 27, 22, 25, 24, 38, 30, 26, 34, 28, 36, 30, 24, 28, 32, 26, 34, 28, 30, 24, 32, 36, 28, 26, 24, 32, 34, 28, 36, 30, 27],
    [19, 23, 28, 30, 28, 32, 47, 49, 44],
]
c7_green = [
    [6.5, 5, 7, 8, 6, 5, 4.5, 5.5, 6, 7, 7.5, 8.5, 6, 5, 4.5, 5, 6, 4.5, 4, 5, 4.5, 4, 4.5, 5, 4.5, 4, 5, 4.5, 5, 5.5, 6, 5.5, 5, 6, 5, 4.5, 3.5],
    [8, 6, 7, 9, 7, 6, 5, 7.5, 8, 6, 5, 6.5, 7, 5.5, 4, 6, 7, 6, 7.5, 8, 6.5, 7, 6, 7, 6.5, 7, 6, 5.5, 5, 4.5],
    [7, 6, 5, 6, 6.5, 7.5, 8, 8, 8.5, 9, 9.5, 10, 10.5, 11, 10, 9.5, 9, 8.5, 9, 8, 7, 7.5, 8.5, 9, 9.5, 9, 8, 7.5, 7, 7.5, 7, 8],
    [14, 13, 16, 12, 10, 11, 12, 9, 10, 12, 11, 9, 12, 13, 10, 11, 12, 10, 9, 11, 13, 15, 16, 12, 10, 9, 11, 10, 12, 11],
    [8, 10, 14, 16, 18, 17, 15, 13, 16, 19, 17, 22, 16, 18, 14, 15, 17, 19, 21, 16, 17, 14],
    [18, 16, 20, 14, 12, 16, 18, 20, 22, 26, 20, 16, 18, 14, 17, 20, 22, 18, 16, 19, 22, 20, 18, 20, 22, 17, 19, 21, 18, 20, 24, 26, 20, 18, 19, 18],
    [19, 17, 13, 18, 24, 28, 22, 26, 30, 24, 22, 26, 28, 24, 30, 26, 34, 28, 24, 32, 26, 30, 34, 28, 24, 30, 26, 22, 28, 24, 26, 30, 28, 22, 26, 24, 28, 30, 26, 24, 22, 28, 26, 24, 28, 25, 22, 24, 26, 21, 18, 22, 24, 20],
    [36, 37, 34, 28, 24, 27, 30, 26, 22, 24, 26, 28, 30, 26, 24, 28, 32, 30, 28, 26, 22, 20, 24, 28, 30, 32, 28, 30, 34, 36, 38, 33, 28, 24, 20, 22, 26, 28, 30, 32, 33, 31, 30, 32, 35, 32, 30, 28, 26, 24, 22, 25, 24, 26, 28],
]
c7_mean_red = [4.6, 6.7, 9.1, 10.8, 13.8, 18.8, 22.9, 24.3]
c7_mean_blue = [4.9, 7.0, 8.4, 14.6, 14.9, 18.3, 29.3, 33.4]
c7_mean_green = [4.9, 6.4, 8.3, 11.3, 15.9, 18.5, 25.6, 28.3]

# ---------------- EMG_C8 ----------------
c8_red = [
    [4, 6, 5, 4.5, 5, 4, 5.5, 5, 6, 5, 4.5, 5, 6, 5.5, 5, 4.5, 5, 6, 5.5, 5, 4.5, 6, 5.5, 5, 4],
    [7, 9, 8, 7.5, 8, 7, 8.5, 9, 7, 6, 6.5, 7, 8, 7.5, 6.5, 7, 8, 9, 10, 8.5, 8, 7.5, 8, 7, 8.5, 7, 8, 9, 8.5, 8, 7, 9, 10.5, 12, 9, 8.5, 9.5, 8.5, 9],
    [9.5, 10, 10.5, 11, 11.5, 11, 10.5, 10, 9, 8, 7, 8, 9, 10, 10.5, 10, 9.5, 10, 10.5, 10, 10.5, 11, 12, 12.5, 13, 13.5, 13, 12.5, 12, 9.5, 9],
    [9, 12, 14, 12, 11, 13, 10, 12, 14, 11, 9, 12, 13, 15, 11, 10, 12, 13, 11, 14, 12, 10, 13, 14, 12, 11, 13, 12, 10, 11, 13, 12, 14, 13, 15, 17, 14, 13, 15],
    [9, 12, 16, 18, 17, 15, 13, 16, 14, 17, 15, 13, 18, 16, 14, 15, 13, 14, 12, 15, 17, 19, 16, 13, 12, 14],
    [22, 20, 24, 26, 22, 18, 20, 23, 21, 19, 22, 25, 20, 18, 22, 24, 20, 18, 21, 24, 22, 20, 23, 25, 22, 19, 21, 33, 26, 22, 20, 24, 22, 20, 24, 26, 22, 20, 18, 17, 16, 17, 18, 16, 20],
    [38, 36, 40, 34, 28, 24, 18, 14, 13, 17, 20, 24, 22, 18, 20, 22, 26, 24, 20, 18, 22, 24, 26, 22, 24, 20, 18, 22, 26, 24, 20, 22, 24, 26, 24, 22, 20, 24, 22],
    [26.7, 26.8, 29.1, 30.3, 33.3, 35.6, 33.7, 29.1, 30, 29.3, 30.4, 29.3, 25.7, 29.3, 20.6, 20.8, 23.4, 26.6, 24.9, 28, 22.5, 24.9, 27.2, 27.2, 32.9, 34.8, 36.6, 41.1, 37.9, 29.1, 30, 21.3, 29.7],
]
c8_blue = [
    [5, 4.5, 6, 5, 3, 4, 5, 5.5, 6, 7, 8, 7, 6, 5.5, 6, 5, 6, 5.5, 5, 6, 10, 6, 5, 5.5, 6, 5, 5.5],
    [8, 7.5, 9, 10, 8, 9, 7, 7.5, 6.5, 8, 9, 10.5, 8, 6.5, 7, 5.5, 7, 6.5, 7, 6, 6.5, 7, 7.5, 6, 7, 8, 7.5, 7, 8, 7.5, 7, 7.5, 8],
    [8.5, 9, 10, 10.5, 9, 8.5],
    [15, 18, 14, 17, 13, 16, 12, 14, 17, 15, 20, 25, 18, 15, 14, 16, 19, 17, 14, 16, 20, 23, 17],
    [11, 20, 16, 13, 18, 15, 12, 10, 16, 18, 22, 16, 14, 18, 24, 17, 15, 18, 21, 16, 14],
    [15, 12, 18, 20, 16, 22, 19, 21, 18, 20, 23, 26, 28, 24, 30, 34, 26, 22, 24, 28, 21, 25, 27, 29, 24, 22],
    [37, 34, 39, 32, 28, 26, 30, 24, 38, 32, 26, 30, 24, 28, 34, 30, 26, 32, 40, 36, 30, 28, 34, 38, 30, 32, 28, 38, 34, 36, 30, 34, 28, 40, 36, 32, 38, 30, 34, 32, 30],
    [17.9, 19.4, 26.1, 30.3, 30, 32.9, 35.6, 45.1, 37.6],
]
c8_green = [
    [7.5, 6, 7, 6, 5, 4.5, 5, 6, 5.5, 6, 7, 9, 8, 6, 5, 5.5, 4.5, 5, 4.5, 5, 4.5, 5, 5.5, 4.5, 5, 4.5, 4, 5, 5.5, 5, 4.5, 5, 5.5, 5, 4.5, 4, 3.5],
    [6, 7, 6.5, 8, 7, 6, 7.5, 8, 6.5, 7, 6, 5.5, 7, 6.5, 5, 6, 7, 6.5, 7, 6, 7.5, 6.5, 7, 6, 7.5, 7, 6, 5.5, 6.5, 5],
    [9.5, 7, 5.5, 6, 6.5, 7, 8, 9, 10, 10.5, 11, 10, 9.5, 10, 11, 12, 13, 12, 11, 10, 8, 7, 8, 9, 10.5, 11, 10, 9, 8, 7, 8, 11],
    [18, 17, 15, 14, 12, 11, 13, 15, 14, 12, 11, 13, 14, 11, 9, 12, 10, 14, 16, 12, 13, 11, 14, 17, 15, 13, 12, 10, 12, 11],
    [10, 12, 14, 16, 18, 15, 12, 14, 16, 20, 24, 18, 15, 12, 16, 18, 20, 22, 17, 14, 13, 11],
    [20, 14, 10, 12, 16, 18, 20, 22, 18, 25, 30, 22, 16, 14, 18, 20, 22, 19, 17, 21, 24, 20, 18, 22, 19, 17, 21, 18, 16, 20, 22, 24, 28, 21, 18, 20],
    [18, 17, 13, 20, 24, 28, 22, 26, 30, 34, 28, 24, 32, 26, 22, 28, 30, 26, 24, 28, 32, 30, 26, 22, 28, 26, 30, 32, 28, 24, 26, 30, 28, 24, 22, 26, 28, 24, 22, 26, 28, 24, 26, 28, 25, 22, 24, 20, 22, 26, 24, 23, 26, 25],
    [45.6, 46.4, 46.2, 40.5, 34.4, 26.7, 27.8, 28.5, 22.7, 24.7, 23, 28.7, 26.1, 31.8, 36.7, 44.1, 42.4, 38.3, 41.3, 39.6, 28.5, 25.3, 31, 29.7, 28.1, 31.3, 31.6, 30.3, 36.7, 39.8, 43.8, 43, 35.1, 37.7, 31.4, 20.2, 23, 27.7, 24.8, 29.3, 27.7, 28.4, 30.9, 30.3, 29.4, 35.2, 32.2, 32.8, 29.1, 27.2, 21.7, 25.3, 24.6, 24.6, 24.7],
]
c8_mean_red = [5.0, 8.0, 10.1, 12.8, 14.7, 21.5, 23.4, 29.0]
c8_mean_blue = [5.5, 7.6, 9.2, 16.4, 16.0, 22.2, 33.0, 30.6]
c8_mean_green = [5.2, 6.8, 8.9, 13.6, 16.0, 19.8, 26.2, 31.8]

rows = [
    (c1_red, c1_blue, c1_green, c1_mean_red, c1_mean_blue, c1_mean_green),
    (c2_red, c2_blue, c2_green, c2_mean_red, c2_mean_blue, c2_mean_green),
    (c3_red, c3_blue, c3_green, c3_mean_red, c3_mean_blue, c3_mean_green),
    (c4_red, c4_blue, c4_green, c4_mean_red, c4_mean_blue, c4_mean_green),
    (c5_red, c5_blue, c5_green, c5_mean_red, c5_mean_blue, c5_mean_green),
    (c6_red, c6_blue, c6_green, c6_mean_red, c6_mean_blue, c6_mean_green),
    (c7_red, c7_blue, c7_green, c7_mean_red, c7_mean_blue, c7_mean_green),
    (c8_red, c8_blue, c8_green, c8_mean_red, c8_mean_blue, c8_mean_green),
]

fig = plt.figure(figsize=(50, 50), dpi=100)
gs = fig.add_gridspec(8, 14, left=0.0102, right=0.99736, bottom=0.0076, top=0.9925,
                      wspace=0.1886, hspace=0.1066)

for r, ch in enumerate(channels):
    red, blue, green, m_red, m_blue, m_green = rows[r]
    series = [("red", red, m_red, red_len), ("blue", blue, m_blue, blue_len),
              ("green", green, m_green, green_len)]
    for c, w in enumerate(weights):
        ax = fig.add_subplot(gs[r, c])
        for color, data, means, lens in series:
            vals = np.asarray(data[c], dtype=float)
            n = lens[c]
            xs = np.linspace(0, n - 1, len(vals))
            sns.lineplot(x=xs, y=vals, color=color, ax=ax, linewidth=1.5)
            ax.hlines(means[c], 0, n - 1, colors=color, linewidth=1.5)
        ax.set_ylim(0, 128)
        ax.set_xlabel("")
        ax.set_ylabel("")
        ax.set_title(f"{w} {ch}")

fig.savefig("out.png", dpi=100)
